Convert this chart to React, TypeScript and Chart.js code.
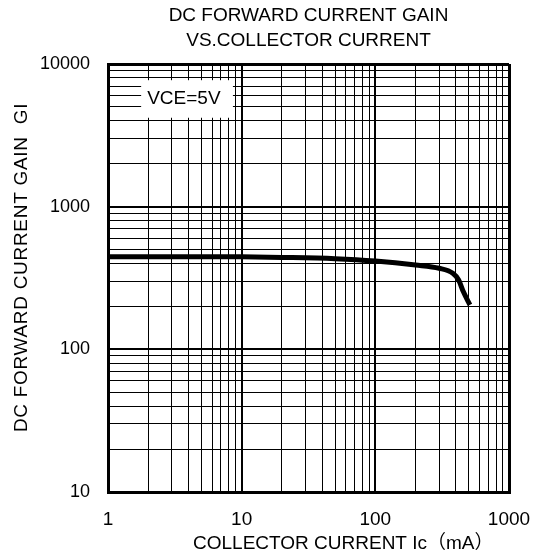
import { useEffect, useRef } from 'react';
import { Chart, registerables } from 'chart.js';

Chart.register(...registerables);

const chartTitle = ['DC FORWARD CURRENT GAIN', 'VS.COLLECTOR CURRENT'];
const xAxisTitle = 'COLLECTOR CURRENT Ic（mA）';
const yAxisTitle = 'DC FORWARD CURRENT GAIN  GI';
const noteText = 'VCE=5V';

// Ic (mA)
const collectorCurrent = [1, 2, 5, 10, 20, 50, 100, 200, 300, 380, 420, 455, 510];
// hFE
const currentGain = [446, 446, 446, 445, 441, 432, 416, 390, 370, 341, 306, 254, 205];

const xTickValues = [
  1, 2, 3, 4, 5, 6, 7, 8, 9,
  10, 20, 30, 40, 50, 60, 70, 80, 90,
  100, 200, 300, 400, 500, 600, 700, 800, 900,
  1000,
];
const yTickValues = [
  10, 20, 30, 40, 50, 60, 70, 80, 90,
  100, 200, 300, 400, 500, 600, 700, 800, 900,
  1000, 2000, 3000, 4000, 5000, 6000, 7000, 8000, 9000,
  10000,
];
const xLabelValues = [1, 10, 100, 1000];
const yLabelValues = [10, 100, 1000, 10000];

// note box extent in data units
const noteXRange = [1.77, 8.6];
const noteYRange = [4200, 7700];

const FONT = '"Liberation Sans", Arial, "Noto Sans CJK JP", sans-serif';

function gridWidth(value: number, min: number, max: number, majors: number[]) {
  if (value === min || value === max) return 3;
  if (majors.includes(value)) return 2;
  return 1;
}

const overlayPlugin = {
  id: 'overlay',
  afterDraw(chart: any) {
    const { ctx, chartArea, scales } = chart;
    const xs = scales.x;
    const ys = scales.y;
    ctx.save();
    // note box
    const l = xs.getPixelForValue(noteXRange[0]);
    const r = xs.getPixelForValue(noteXRange[1]);
    const t = ys.getPixelForValue(noteYRange[1]);
    const b = ys.getPixelForValue(noteYRange[0]);
    ctx.fillStyle = '#fff';
    ctx.fillRect(l, t, r - l, b - t);
    ctx.fillStyle = '#000';
    ctx.font = '19px ' + FONT;
    ctx.textAlign = 'left';
    ctx.textBaseline = 'middle';
    ctx.fillText(noteText, l + 6, (t + b) / 2);
    // x axis title
    ctx.textAlign = 'left';
    ctx.fillText(xAxisTitle, chartArea.left + 85, chartArea.bottom + 52);
    // y axis title
    ctx.translate(22, (chartArea.top + chartArea.bottom) / 2 - 10.5);
    ctx.rotate(-Math.PI / 2);
    ctx.textAlign = 'center';
    try {
      ctx.letterSpacing = '0.7px';
    } catch (e) {
      /* ignore */
    }
    ctx.fillText(yAxisTitle, 0, 0);
    ctx.restore();
  },
};

export default function App() {
  const canvasRef = useRef<HTMLCanvasElement | null>(null);

  useEffect(() => {
    const canvas = canvasRef.current;
    if (!canvas) return;
    Chart.defaults.font.family = FONT;
    Chart.defaults.color = '#000';
    const chart = new Chart(canvas, {
      type: 'line',
      data: {
        datasets: [
          {
            data: collectorCurrent.map((x, i) => ({ x, y: currentGain[i] })),
            borderColor: '#000',
            borderWidth: 5,
            pointRadius: 0,
            fill: false,
            cubicInterpolationMode: 'monotone',
          },
        ],
      },
      options: {
        animation: false,
        responsive: false,
        devicePixelRatio: 1,
        layout: { padding: { left: 0, right: 27, top: 0, bottom: 0 } },
        plugins: {
          legend: { display: false },
          tooltip: { enabled: false },
          title: {
            display: true,
            text: chartTitle,
            fullSize: false,
            color: '#000',
            font: { size: 19, weight: 'normal', family: FONT, lineHeight: 25 / 19 },
            padding: { top: 3.5, bottom: 10.5 },
          },
        },
        scales: {
          x: {
            type: 'logarithmic',
            min: 1,
            max: 1000,
            afterBuildTicks: (scale: any) => {
              scale.ticks = xTickValues.map((v) => ({ value: v, major: xLabelValues.includes(v) }));
            },
            afterFit: (scale: any) => {
              scale.height = 66;
              scale.paddingLeft = 0;
              scale.paddingRight = 0;
            },
            ticks: {
              autoSkip: false,
              maxRotation: 0,
              padding: 16,
              color: '#000',
              font: { size: 19, family: FONT },
              callback: (value: any) => (xLabelValues.includes(Number(value)) ? String(value) : ''),
            },
            grid: {
              color: '#000',
              drawTicks: false,
              lineWidth: (ctx: any) => gridWidth(ctx.tick ? ctx.tick.value : 0, 1, 1000, xLabelValues),
            },
            border: { display: true, color: '#000', width: 3 },
          },
          y: {
            type: 'logarithmic',
            min: 10,
            max: 10000,
            afterBuildTicks: (scale: any) => {
              scale.ticks = yTickValues.map((v) => ({ value: v, major: yLabelValues.includes(v) }));
            },
            afterFit: (scale: any) => {
              scale.width = 108;
              scale.paddingTop = 0;
              scale.paddingBottom = 0;
            },
            ticks: {
              autoSkip: false,
              padding: 18,
              color: '#000',
              font: { size: 18, family: FONT },
              callback: (value: any) => (yLabelValues.includes(Number(value)) ? String(value) : ''),
            },
            grid: {
              color: '#000',
              drawTicks: false,
              lineWidth: (ctx: any) => gridWidth(ctx.tick ? ctx.tick.value : 0, 10, 10000, yLabelValues),
            },
            border: { display: true, color: '#000', width: 3 },
          },
        },
      },
      plugins: [overlayPlugin],
    } as any);
    return () => chart.destroy();
  }, []);

  return (
    <div style={{ position: 'absolute', left: 0, top: 0, width: 536, height: 558, background: '#fff' }}>
      <canvas ref={canvasRef} width={536} height={558} style={{ display: 'block' }} />
    </div>
  );
}
